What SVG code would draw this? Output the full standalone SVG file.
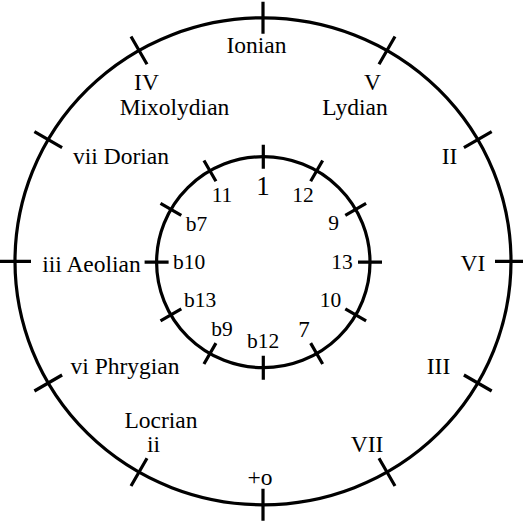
<svg xmlns="http://www.w3.org/2000/svg" width="523" height="523" viewBox="0 0 523 523">
<style>
.ring{fill:none;stroke:#000;stroke-width:3.2}
.tick{stroke:#000;stroke-width:3.2;fill:none}
text{font-family:"Liberation Serif","Times New Roman",serif;fill:#000;text-anchor:middle}
.o{font-size:23.5px}
.i{font-size:21.5px}
</style>
<rect width="523" height="523" fill="#fff"/>
<g id="outer-ring">
<ellipse class="ring" cx="263" cy="261.3" rx="248" ry="243.5"/>
<path class="tick" d="M263,1.8L263,33.8M395,36.5L379,64.3M491.7,131.6L463.9,147.6M527,261.3L495,261.3M491.7,391L463.9,375M395,486L379,458.3M263,520.8L263,488.8M131,486L147,458.3M34.4,391L62.1,375M-1,261.3L31,261.3M34.4,131.6L62.1,147.6M131,36.5L147,64.3"/>
</g>
<g id="inner-ring">
<ellipse class="ring" cx="263.3" cy="262.2" rx="106.7" ry="105.5"/>
<path class="tick" d="M263.3,144.7L263.3,168.7M322.65,160.45L310.65,181.23M366.1,203.45L345.3,215.45M382,262.2L358,262.2M366.1,320.95L345.3,308.95M322.65,363.95L310.65,343.17M263.3,379.7L263.3,355.7M203.95,363.95L215.95,343.17M160.5,320.95L181.3,308.95M144.6,262.2L168.6,262.2M160.5,203.45L181.3,215.45M203.95,160.45L215.95,181.23"/>
</g>
<g id="outer-labels" class="o">
<text x="256.5" y="53">Ionian</text>
<text x="146.5" y="90">IV</text>
<text x="174.5" y="114.5">Mixolydian</text>
<text x="372.5" y="90">V</text>
<text x="355" y="114.5">Lydian</text>
<text x="121" y="163.5">vii Dorian</text>
<text x="449.5" y="164">II</text>
<text x="91.5" y="271.5">iii Aeolian</text>
<text x="473" y="271">VI</text>
<text x="125" y="374">vi Phrygian</text>
<text x="438.5" y="374">III</text>
<text x="161" y="427.5">Locrian</text>
<text x="153.5" y="452">ii</text>
<text x="367" y="451.5">VII</text>
<text x="260" y="485">+o</text>
</g>
<g id="inner-labels" class="i">
<text x="263" y="194.5" style="font-size:27px">1</text>
<text x="222" y="201.5">11</text>
<text x="303" y="201.5">12</text>
<text x="196.5" y="230.5">b7</text>
<text x="333.5" y="230">9</text>
<text x="189" y="269">b10</text>
<text x="342" y="268.5">13</text>
<text x="200" y="306.5">b13</text>
<text x="330.5" y="306.5">10</text>
<text x="222" y="336">b9</text>
<text x="263" y="347.5">b12</text>
<text x="304" y="336.5" style="font-size:23px">7</text>
</g>
</svg>
